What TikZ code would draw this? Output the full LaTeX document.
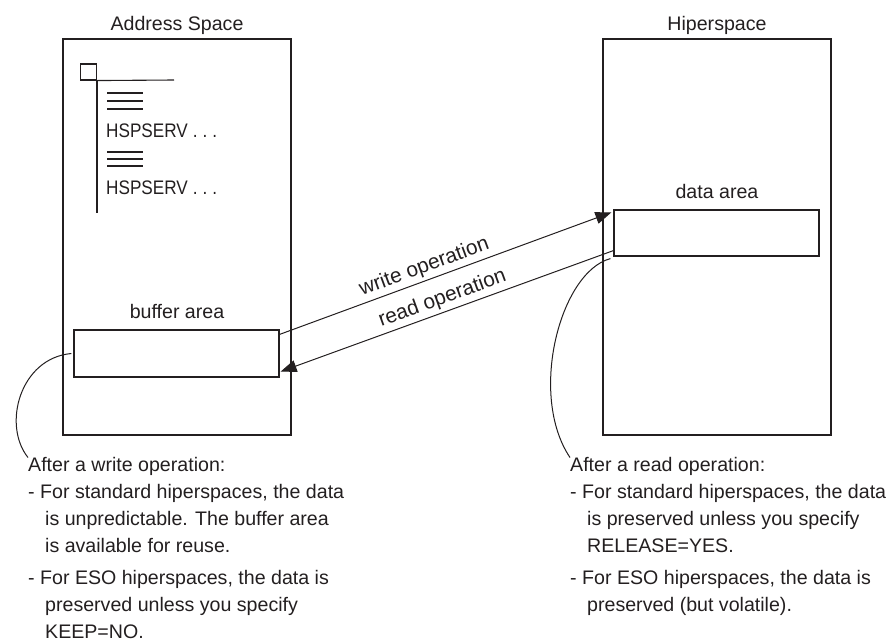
\documentclass[tikz,border=0pt]{standalone}
\usepackage{fontspec}
\setmainfont{Liberation Sans}
\newfontfamily\narrowsans[FakeStretch=0.875]{Liberation Sans}
\usetikzlibrary{arrows.meta,calc}
\definecolor{ink}{RGB}{35,31,32}
\begin{document}
\begin{tikzpicture}[x=1pt,y=-1pt,
  outerbox/.style={draw=ink,line width=1.2pt,minimum width=228pt,minimum height=396pt,inner sep=0pt},
  areabox/.style={draw=ink,line width=1.2pt,minimum width=205pt,minimum height=47pt,inner sep=0pt},
  lbl/.style={font=\fontsize{19.6}{27}\selectfont,text=ink,inner sep=0pt},
  oplbl/.style={font=\fontsize{20.8}{27}\selectfont,text=ink,inner sep=3pt},
  note/.style={lbl,align=left,anchor=north west},
  conn/.style={draw=ink,line width=1pt},
  tipped/.style={conn,-{Triangle[length=16pt,width=12pt]}},
  codeline/.style={draw=ink,line width=1.1pt}]
\useasboundingbox (0,0) rectangle (891,643);

% outer spaces
\node[outerbox] (as) at (177,237) {};
\node[outerbox] (hs) at (717,237) {};
\node[lbl,anchor=base] (aslbl) at (177,30) {Address Space};
\node[lbl,anchor=base] (hslbl) at (717,30) {Hiperspace};

% areas
\node[areabox] (buf) at (176.5,353.5) {};
\node[areabox,minimum height=46pt] (dat) at (716.5,233) {};
\node[lbl,anchor=base] (buflbl) at (177,318) {buffer area};
\node[lbl,anchor=base] (datlbl) at (717,198) {data area};

% program listing symbol
\node[draw=ink,line width=1.1pt,minimum size=16pt,inner sep=0pt] (sq) at (88.5,72) {};
\coordinate (hend) at (174,80);
\coordinate (vend) at (97,213);
\draw[codeline] (sq.south east) -- (hend);
\draw[codeline] (97,80) -- (vend);
\foreach \yy in {93,101,109,152,159,166}
  \draw[codeline] (107,\yy) -- (143,\yy);
\node[lbl,anchor=base west,font=\narrowsans\fontsize{19.6}{27}\selectfont] (hsp1) at (106,137) {HSPSERV\hspace{5pt}.\hspace{5pt}.\hspace{5pt}.};
\node[lbl,anchor=base west,font=\narrowsans\fontsize{19.6}{27}\selectfont] (hsp2) at (106,194) {HSPSERV\hspace{5pt}.\hspace{5pt}.\hspace{5pt}.};

% operations
\draw[tipped] ($(buf.north east)+(0,5)$) -- ($(dat.north west)+(-2,3)$)
  node[oplbl,pos=0.45,sloped,above] (wlbl) {write operation};
\draw[conn,{Triangle[length=16pt,width=12pt]}-] ($(buf.south east)+(1,-6)$) -- ($(dat.south west)+(0,-6)$)
  node[oplbl,pos=0.5,sloped,above] (rlbl) {read operation};

% notes
\node[note] (wnote) at (28,457.5) {After a write operation:\\
- For standard hiperspaces, the data\\
\hspace*{17pt}is unpredictable. The buffer area\\
\hspace*{17pt}is available for reuse.\\[5pt]
- For ESO hiperspaces, the data is\\
\hspace*{17pt}preserved unless you specify\\
\hspace*{17pt}KEEP=NO.};
\node[note] (rnote) at (570,457.5) {After a read operation:\\
- For standard hiperspaces, the data\\
\hspace*{17pt}is preserved unless you specify\\
\hspace*{17pt}RELEASE=YES.\\[5pt]
- For ESO hiperspaces, the data is\\
\hspace*{17pt}preserved (but volatile).};

% leader curves
\draw[conn] ($(buf.west)+(-2,0)$) .. controls (20,358) and (2,425) .. (wnote.north west);
\draw[conn] ($(dat.south west)+(-3,2)$) .. controls (560,272) and (528,395) .. (rnote.north west);
\end{tikzpicture}
\end{document}
